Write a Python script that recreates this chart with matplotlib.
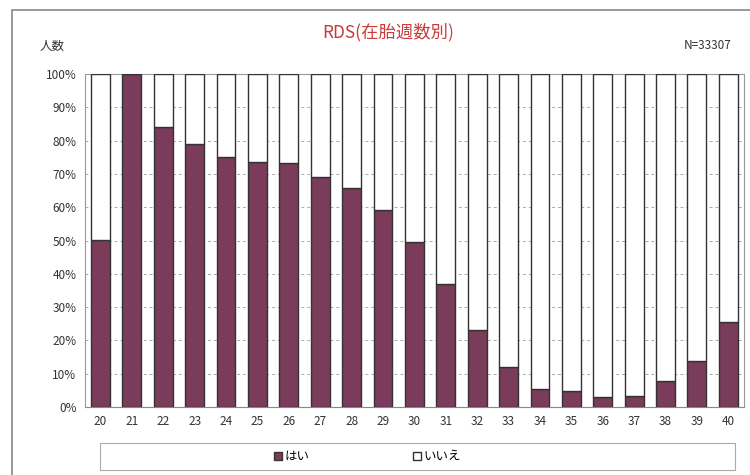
import numpy as np
import matplotlib.pyplot as plt
from matplotlib.patches import Rectangle

plt.rcParams['font.family'] = ['Noto Sans CJK JP', 'DejaVu Sans']

weeks = [str(w) for w in range(20, 41)]
yes_pct = [50.2, 100, 84.1, 79.0, 75.0, 73.6, 73.3, 69.0, 65.8, 59.2, 49.5,
           36.9, 23.1, 12.0, 5.4, 4.8, 3.0, 3.3, 7.8, 13.8, 25.5]
no_pct = [100 - v for v in yes_pct]

maroon = '#7b3b5b'

fig = plt.figure(figsize=(7.5, 4.75), dpi=100)
ax = fig.add_axes([0.113, 0.143, 0.879, 0.701])

x = np.arange(len(weeks))
ax.bar(x, yes_pct, width=0.6, color=maroon, edgecolor='#333333', linewidth=1.0, label='はい', zorder=3)
ax.bar(x, no_pct, bottom=yes_pct, width=0.6, color='white', edgecolor='#333333', linewidth=1.0, label='いいえ', zorder=3)

ax.set_xlim(-0.5, len(weeks) - 0.5)
ax.set_ylim(0, 100)
ax.set_yticks(np.arange(0, 101, 10))
ax.set_yticklabels([f'{v}%' for v in range(0, 101, 10)], fontsize=8.5, color='#333333')
ax.set_xticks(x)
ax.set_xticklabels(weeks, fontsize=8.5, color='#333333')
ax.tick_params(axis='both', length=0, pad=6)
ax.yaxis.grid(True, linestyle=(0, (3, 3)), color='#aaaaaa', linewidth=0.7, zorder=0)
for s in ax.spines.values():
    s.set_color('#999999')
    s.set_linestyle((0, (2, 1)))
    s.set_linewidth(0.8)
ax.spines['bottom'].set_linestyle('-')
ax.spines['bottom'].set_color('#888888')

fig.text(0.517, 0.933, 'RDS(在胎週数別)', ha='center', va='center', fontsize=12.5, color='#c83c3c')
fig.text(0.053, 0.902, '人数', ha='left', va='center', fontsize=9, color='#333333')
fig.text(0.975, 0.905, 'N=33307', ha='right', va='center', fontsize=8.5, color='#333333')

# outer frame
fig.patches.append(Rectangle((0.016, -0.05), 1.2, 1.03, transform=fig.transFigure,
                             fill=False, edgecolor='#888888', linewidth=1.2))
# legend box
fig.patches.append(Rectangle((100 / 750, 5 / 475), 635 / 750, 27 / 475, transform=fig.transFigure,
                             fill=False, edgecolor='#aaaaaa', linewidth=0.8))
fig.legend(loc='center', bbox_to_anchor=(0.49, 18.5 / 475), ncol=2, frameon=False,
           fontsize=9, handlelength=0.6, handleheight=0.6, handletextpad=0.2,
           columnspacing=8.3)

fig.savefig('out.png', dpi=100)
